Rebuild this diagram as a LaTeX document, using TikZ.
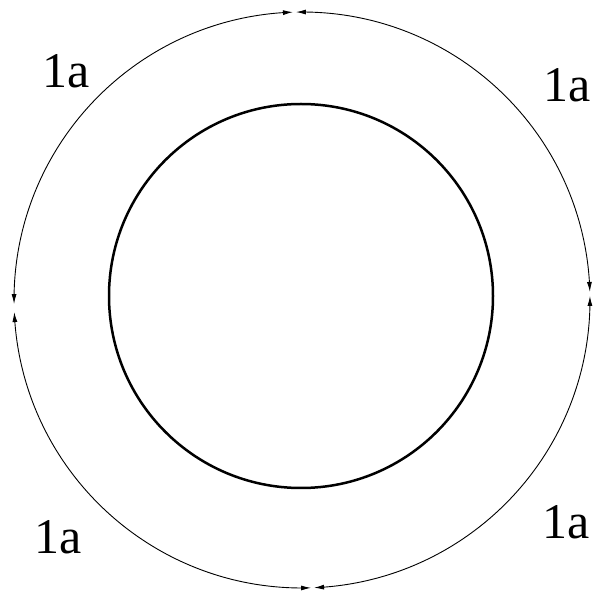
\documentclass[tikz,border=0pt]{standalone}
\usepackage{fontspec}
\setmainfont{Liberation Serif}
\usetikzlibrary{arrows.meta,bending}
\begin{document}
\begin{tikzpicture}[x=1pt,y=1pt,
  arcline/.style={line width=0.9pt,{Latex[length=10pt,width=5pt,flex]}-{Latex[length=10pt,width=5pt,flex]}},
  lab/.style={font=\fontsize{50}{50}\selectfont, inner sep=0pt}]
\useasboundingbox (0,0) rectangle (592,597);
\coordinate (O) at (302,297);
\def\R{288}
\draw[arcline] (O) ++(91.8:\R) arc[start angle=91.8,end angle=180.8,radius=\R];
\draw[arcline] (O) ++(182.4:\R) arc[start angle=182.4,end angle=271.8,radius=\R];
\draw[arcline] (O) ++(272.4:\R) arc[start angle=272.4,end angle=360.8,radius=\R];
\draw[arcline] (O) ++(1.6:\R) arc[start angle=1.6,end angle=91.2,radius=\R];
\draw[line width=2.5pt] (301,301) circle[radius=192];
\node[lab] (a) at (66,526) {1a};
\node[lab] (b) at (567,512) {1a};
\node[lab] (c) at (58,60) {1a};
\node[lab] (d) at (566,75) {1a};
\end{tikzpicture}
\end{document}
